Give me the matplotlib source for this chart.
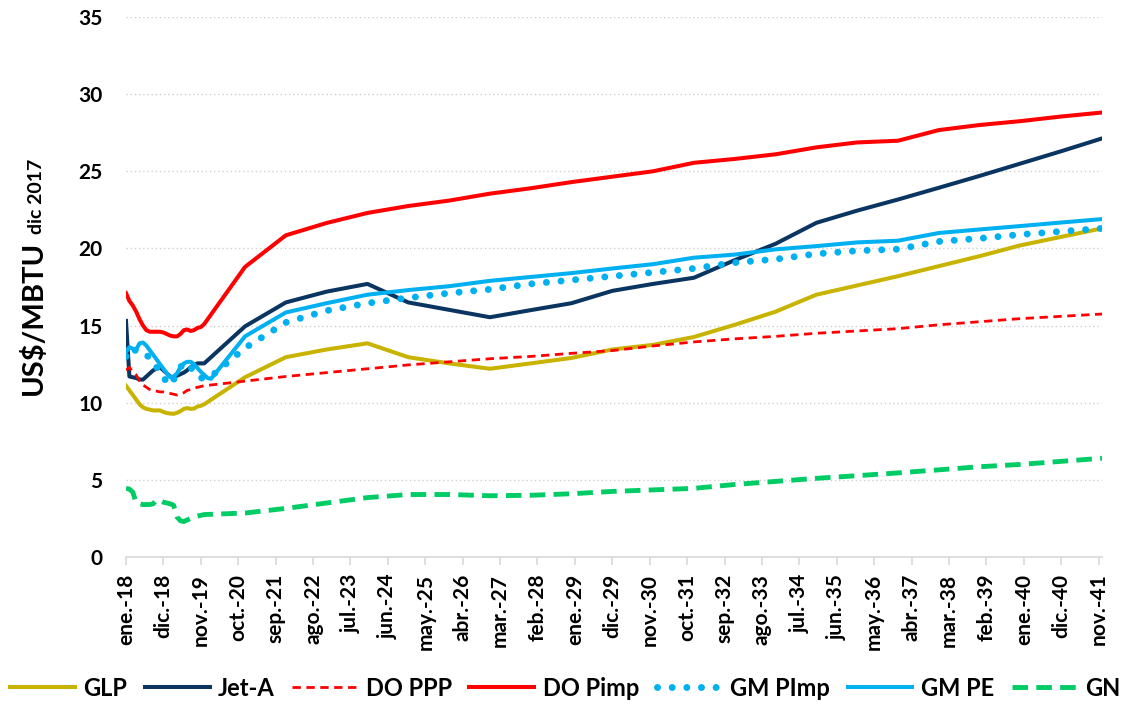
import matplotlib
matplotlib.use("Agg")
import matplotlib.pyplot as plt

# month index: 0 = ene-18 ... 287 = dic-41
months = list(range(24)) + list(range(35, 288, 12))
months_gm = list(range(26)) + list(range(35, 288, 12))

tick_labels = ["ene.-18", "dic.-18", "nov.-19", "oct.-20", "sep.-21", "ago.-22", "jul.-23",
               "jun.-24", "may.-25", "abr.-26", "mar.-27", "feb.-28", "ene.-29", "dic.-29",
               "nov.-30", "oct.-31", "sep.-32", "ago.-33", "jul.-34", "jun.-35", "may.-36",
               "abr.-37", "mar.-38", "feb.-39", "ene.-40", "dic.-40", "nov.-41"]

glp = [11.1, 10.8, 10.5, 10.2, 9.9, 9.7, 9.6, 9.55, 9.5, 9.5, 9.5, 9.4, 9.33, 9.3, 9.28, 9.35,
       9.45, 9.6, 9.65, 9.6, 9.62, 9.75, 9.8, 9.9,
       11.65, 12.95, 13.45, 13.85, 12.95, 12.55, 12.2, 12.55, 12.9, 13.45, 13.75, 14.26, 15.05,
       15.9, 17.0, 17.6, 18.2, 18.85, 19.5, 20.2, 20.75, 21.3]
jet_a = [15.3, 11.7, 11.65, 11.6, 11.5, 11.5, 11.7, 11.9, 12.1, 12.2, 12.3, 12.1, 11.9, 11.7,
         11.65, 11.75, 11.85, 11.95, 12.1, 12.3, 12.45, 12.55, 12.55, 12.55,
         14.95, 16.5, 17.2, 17.7, 16.5, 16.02, 15.54, 16.0, 16.45, 17.25, 17.7, 18.1, 19.24,
         20.3, 21.66, 22.45, 23.17, 23.93, 24.7, 25.5, 26.3, 27.13]
do_ppp = [12.1, 12.3, 12.0, 11.8, 11.4, 11.15, 11.0, 10.85, 10.75, 10.75, 10.7, 10.7, 10.65,
          10.6, 10.55, 10.5, 10.55, 10.65, 10.8, 10.85, 10.95, 11.0, 11.05, 11.1,
          11.4, 11.7, 11.95, 12.2, 12.45, 12.65, 12.85, 13.0, 13.2, 13.38, 13.68, 13.94, 14.14,
          14.3, 14.5, 14.65, 14.8, 15.05, 15.25, 15.45, 15.6, 15.75]
do_pimp = [17.1, 16.6, 16.3, 15.9, 15.4, 15.0, 14.7, 14.6, 14.6, 14.6, 14.6, 14.55, 14.45,
           14.35, 14.3, 14.3, 14.45, 14.7, 14.75, 14.65, 14.7, 14.85, 14.9, 15.1,
           18.8, 20.85, 21.65, 22.3, 22.75, 23.1, 23.55, 23.9, 24.3, 24.65, 25.0, 25.55, 25.8,
           26.1, 26.55, 26.87, 26.98, 27.67, 28.0, 28.25, 28.55, 28.81]
gm_pimp = [13.0, 13.5, 13.5, 13.35, 13.3, 13.3, 13.1, 12.9, 12.7, 12.3, 12.0, 11.7, 11.3,
           11.15, 11.5, 11.9, 12.3, 12.55, 12.6, 12.3, 12.0, 11.7, 11.6, 11.6, 11.6, 11.7,
           13.55, 15.2, 15.97, 16.45, 16.8, 17.1, 17.35, 17.7, 17.95, 18.2, 18.45, 18.7, 19.08,
           19.3, 19.65, 19.85, 19.95, 20.45, 20.65, 20.9, 21.1, 21.3]
gm_pe = [13.3, 13.6, 13.5, 13.45, 13.85, 13.9, 13.7, 13.4, 13.1, 12.8, 12.5, 12.2, 11.9, 11.65,
         11.7, 11.9, 12.3, 12.55, 12.65, 12.65, 12.5, 12.25, 12.0, 11.8, 11.6, 11.55,
         14.3, 15.85, 16.45, 17.0, 17.3, 17.55, 17.9, 18.15, 18.4, 18.7, 18.98, 19.4, 19.6,
         19.94, 20.15, 20.39, 20.5, 21.0, 21.23, 21.45, 21.68, 21.9]
gn = [4.45, 4.4, 4.2, 3.5, 3.45, 3.4, 3.4, 3.4, 3.45, 3.7, 3.65, 3.55, 3.5, 3.45, 3.35, 2.6,
      2.35, 2.3, 2.4, 2.5, 2.6, 2.65, 2.7, 2.75,
      2.85, 3.15, 3.5, 3.85, 4.05, 4.05, 3.97, 4.0, 4.1, 4.25, 4.35, 4.45, 4.7, 4.9, 5.1, 5.27,
      5.45, 5.65, 5.85, 6.0, 6.2, 6.4]

plt.rcParams['font.family'] = ['Lato', 'DejaVu Sans']
plt.rcParams['font.weight'] = 'bold'

fig = plt.figure(figsize=(11.3, 7.07), dpi=100)
ax = fig.add_axes([126/1130, 1-557/707, (1102-126)/1130, (557-17)/707])

ax.plot(months, glp, color='#C8B400', lw=2.9, label='GLP')
ax.plot(months, jet_a, color='#0B3561', lw=2.9, label='Jet-A')
ax.plot(months, do_ppp, color='#FF0000', lw=2.0, linestyle=(0, (3, 2)), label='DO PPP')
ax.plot(months, do_pimp, color='#FF0000', lw=2.9, label='DO Pimp')
ax.plot(months_gm, gm_pimp, color='#00B0F0', lw=5, linestyle=(0, (0.01, 2.1)),
        dash_capstyle='round', label='GM PImp')
ax.plot(months_gm, gm_pe, color='#00B0F0', lw=2.9, label='GM PE')
ax.plot(months, gn, color='#00CC66', lw=3.5, linestyle=(0, (3.2, 1.7)), label='GN')

ax.set_xlim(0, 287)
ax.set_ylim(0, 35)
ax.set_yticks(range(0, 36, 5))
ax.set_xticks(range(0, 287, 11))
ax.set_xticklabels(tick_labels, rotation=90, fontsize=15, fontweight='bold')
for lbl in ax.get_yticklabels():
    lbl.set_fontsize(15)
    lbl.set_fontweight('bold')

ax.grid(axis='y', color='#D0D0D0', linestyle=(0, (1, 2)), lw=1)
ax.set_axisbelow(True)
for s in ['top', 'right', 'left']:
    ax.spines[s].set_visible(False)
ax.spines['bottom'].set_color('#D9D9D9')
ax.spines['bottom'].set_linewidth(1.2)
ax.tick_params(axis='y', length=0, pad=17)
ax.tick_params(axis='x', length=6, color='#D9D9D9', width=1.2, pad=6)

fig.text(33/1130, 1-318/707, 'US\\$/MBTU', rotation=90, fontsize=21, fontweight='bold',
         ha='center', va='center')
fig.text(37/1130, 1-196/707, 'dic 2017', rotation=90, fontsize=14, fontweight='bold',
         ha='center', va='center')

fig.legend(loc='center', bbox_to_anchor=(0.5, 1-688/707), ncol=7, frameon=False,
           handlelength=2.75, handletextpad=0.35, columnspacing=0.75,
           prop={'weight': 'bold', 'size': 17})

fig.savefig('out.png', dpi=100)
